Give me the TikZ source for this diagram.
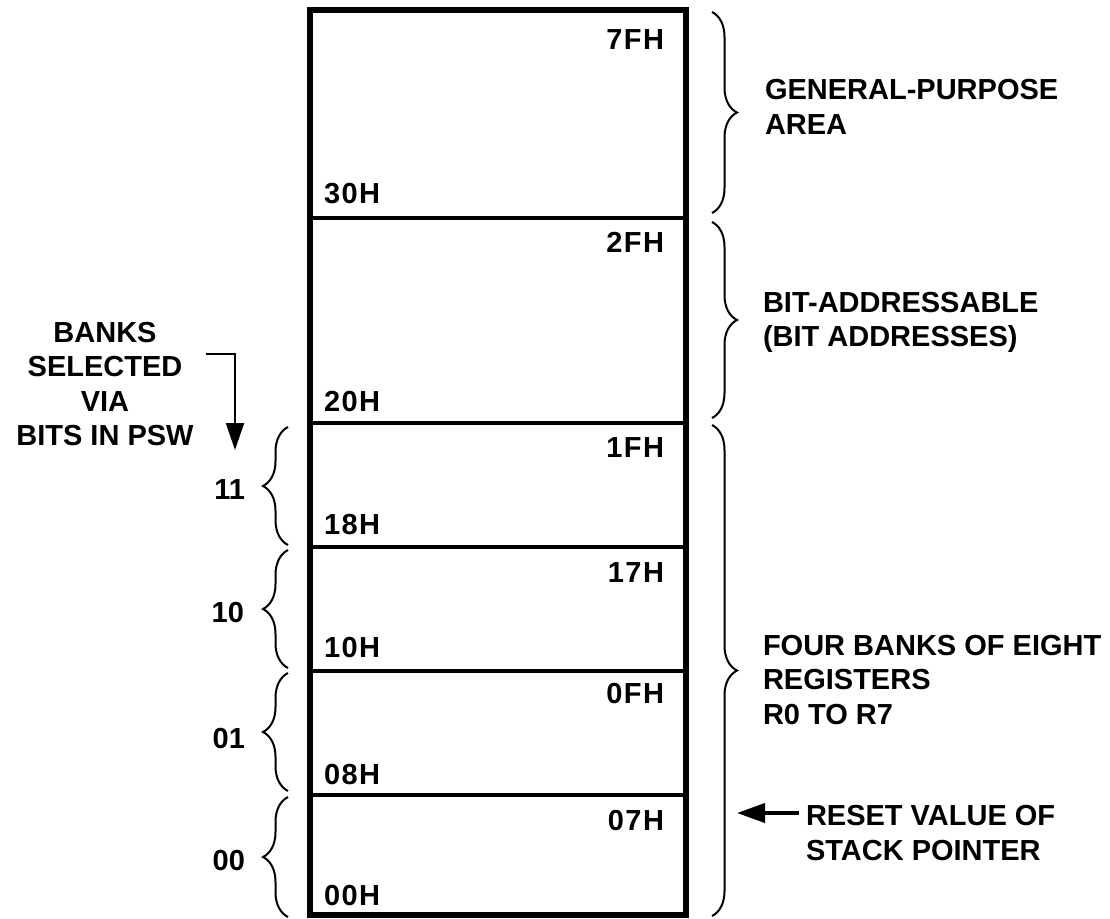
\documentclass[tikz,border=0pt]{standalone}
\usepackage{fontspec}
\setmainfont{Liberation Sans}
\usetikzlibrary{decorations.pathreplacing,arrows.meta,calc}
\begin{document}
\begin{tikzpicture}[x=1pt,y=-1pt,
  txt/.style={font=\fontsize{29}{34.5}\selectfont\bfseries,inner sep=0pt,outer sep=0pt},
  hex/.style={font=\fontsize{29}{34.5}\selectfont\bfseries\addfontfeature{LetterSpace=5},inner sep=0pt,outer sep=0pt},
  cell/.style={draw,line width=4pt,minimum width=376pt,inner sep=0pt,outer sep=0pt},
  brc/.style={decorate,decoration={brace,amplitude=25pt},line width=2pt},
  arr/.style={-{Triangle[length=28pt,width=19pt]}}
]
\useasboundingbox (0,0) rectangle (1110,918);
% memory cells
\node[cell,minimum height=207.5pt] (gp) at (498,113.75) {};
\node[cell,minimum height=205.5pt] (ba) at (498,320.25) {};
\node[cell,minimum height=124pt] (b3) at (498,485) {};
\node[cell,minimum height=124pt] (b2) at (498,609) {};
\node[cell,minimum height=124pt] (b1) at (498,733) {};
\node[cell,minimum height=120pt] (b0) at (498,855) {};
\draw[line width=6pt] (gp.north west) rectangle (b0.south east);
% addresses
\node[hex,anchor=base east] (a7f) at (664,49) {7FH};
\node[hex,anchor=base west] (a30) at (324,203) {30H};
\node[hex,anchor=base east] (a2f) at (664,252) {2FH};
\node[hex,anchor=base west] (a20) at (324,411) {20H};
\node[hex,anchor=base east] (a1f) at (664,457) {1FH};
\node[hex,anchor=base west] (a18) at (324,534) {18H};
\node[hex,anchor=base east] (a17) at (664,582) {17H};
\node[hex,anchor=base west] (a10) at (324,657) {10H};
\node[hex,anchor=base east] (a0f) at (664,703) {0FH};
\node[hex,anchor=base west] (a08) at (324,784) {08H};
\node[hex,anchor=base east] (a07) at (664,830) {07H};
\node[hex,anchor=base west] (a00) at (324,905) {00H};
% right braces
\draw[brc] (712,12) -- (712,213);
\draw[brc] (712,222) -- (712,418);
\draw[brc] (712,425) -- (712,916);
\node[txt,anchor=base west,align=left] (tgp) at (765,134) {GENERAL-PURPOSE\\AREA};
\node[txt,anchor=base west,align=left] (tba) at (763,346.5) {BIT-ADDRESSABLE\\(BIT ADDRESSES)};
\node[txt,anchor=base west,align=left] (tfb) at (763,724) {FOUR BANKS OF EIGHT\\REGISTERS\\R0 TO R7};
\node[txt,anchor=base west,align=left] (trs) at (806,860) {RESET VALUE OF\\STACK POINTER};
\coordinate (rsend) at (737,813);
\draw[line width=4pt,arr] (trs.west |- rsend) ++(-7,0) coordinate (rsstart) -- (rsend);
% left braces
\draw[brc] (288,545) -- (288,427);
\draw[brc] (288,668) -- (288,550);
\draw[brc] (288,791) -- (288,673);
\draw[brc] (288,917) -- (288,797);
\node[txt,anchor=base east] (n11) at (245,499) {11};
\node[txt,anchor=base east] (n10) at (244,622.5) {10};
\node[txt,anchor=base east] (n01) at (245,748) {01};
\node[txt,anchor=base east] (n00) at (245,870) {00};
\node[txt,anchor=base,align=center] (banks) at (105,445.5) {BANKS\\SELECTED\\VIA\\BITS IN PSW};
\coordinate (bkstart) at (206,354);
\coordinate (bkend) at (235,450);
\draw[line width=2pt,-{Triangle[length=27pt,width=18pt]}] (bkstart) -| (bkend);
\end{tikzpicture}
\end{document}
